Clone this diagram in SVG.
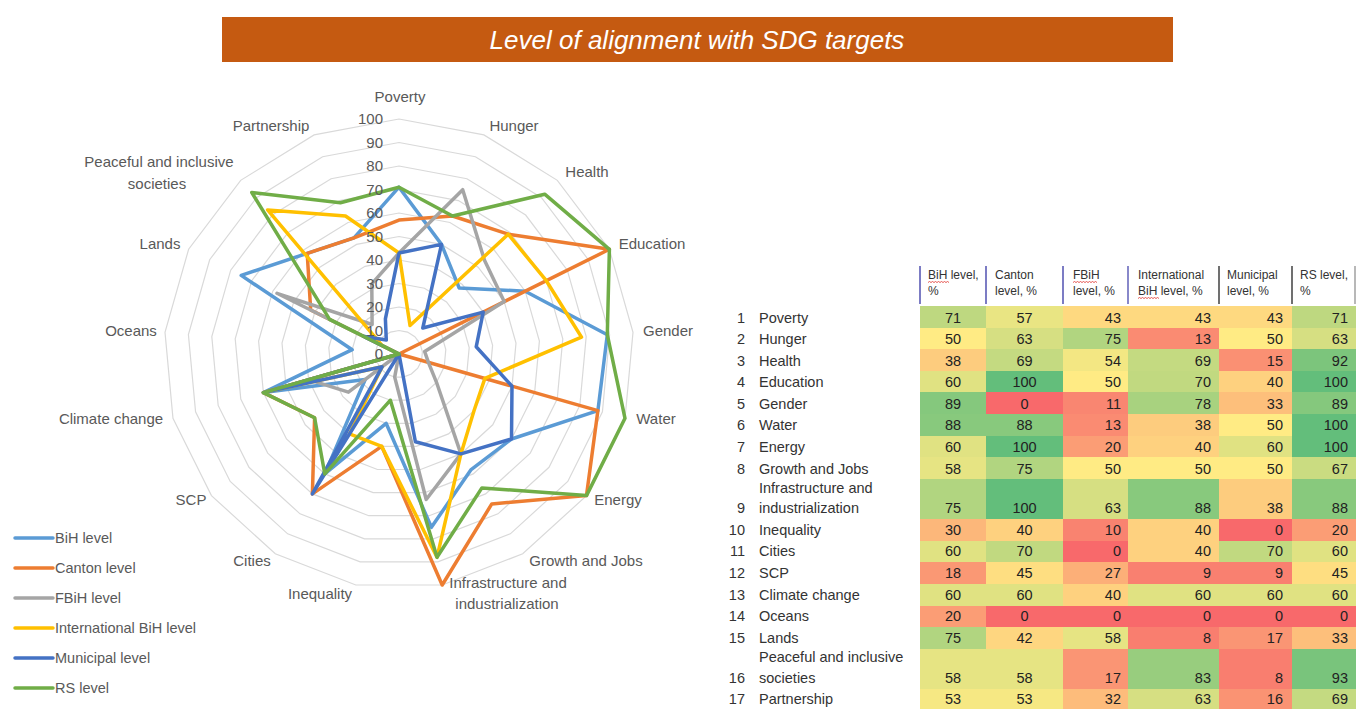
<svg xmlns="http://www.w3.org/2000/svg" width="1356" height="709" viewBox="0 0 1356 709">
<style>
text{font-family:"Liberation Sans",Arial,sans-serif}
.ring{fill:none;stroke:#D9D9D9;stroke-width:1.2;vector-effect:non-scaling-stroke}
.tick{font-size:15px;fill:#595959;text-anchor:end}
.ax{font-size:15px;fill:#595959;text-anchor:middle}
.ser{fill:none;stroke-width:3.5;stroke-linejoin:round}
.leg{font-size:14.5px;fill:#595959}
.legl{stroke-width:3.5;stroke-linecap:round}
.hd{font-size:12px;fill:#333}
.vl{stroke-width:1.5}
.lbl{font-size:14.5px;fill:#333}
.num{font-size:14.5px;fill:#222}
.c{text-anchor:middle}
.r{text-anchor:end}
.sq{fill:none;stroke:#E0302A;stroke-width:0.8}
</style>

<g id="title">
<rect x="222" y="17" width="951" height="45" fill="#C55A11"/>
<text x="697" y="49" font-size="26" font-style="italic" fill="#FFFFFF" text-anchor="middle">Level of alignment with SDG targets</text>
</g>

<g id="radar-grid">
<polygon class="ring" transform="translate(399 354) scale(23.5)" points="0,-1 0.36124,-0.93247 0.6737,-0.73901 0.89516,-0.44573 0.99573,-0.09227 0.96183,0.27366 0.79802,0.60263 0.52643,0.85022 0.18375,0.98297 -0.18375,0.98297 -0.52643,0.85022 -0.79802,0.60263 -0.96183,0.27366 -0.99573,-0.09227 -0.89516,-0.44573 -0.6737,-0.73901 -0.36124,-0.93247"/>
<polygon class="ring" transform="translate(399 354) scale(47)" points="0,-1 0.36124,-0.93247 0.6737,-0.73901 0.89516,-0.44573 0.99573,-0.09227 0.96183,0.27366 0.79802,0.60263 0.52643,0.85022 0.18375,0.98297 -0.18375,0.98297 -0.52643,0.85022 -0.79802,0.60263 -0.96183,0.27366 -0.99573,-0.09227 -0.89516,-0.44573 -0.6737,-0.73901 -0.36124,-0.93247"/>
<polygon class="ring" transform="translate(399 354) scale(70.5)" points="0,-1 0.36124,-0.93247 0.6737,-0.73901 0.89516,-0.44573 0.99573,-0.09227 0.96183,0.27366 0.79802,0.60263 0.52643,0.85022 0.18375,0.98297 -0.18375,0.98297 -0.52643,0.85022 -0.79802,0.60263 -0.96183,0.27366 -0.99573,-0.09227 -0.89516,-0.44573 -0.6737,-0.73901 -0.36124,-0.93247"/>
<polygon class="ring" transform="translate(399 354) scale(94)" points="0,-1 0.36124,-0.93247 0.6737,-0.73901 0.89516,-0.44573 0.99573,-0.09227 0.96183,0.27366 0.79802,0.60263 0.52643,0.85022 0.18375,0.98297 -0.18375,0.98297 -0.52643,0.85022 -0.79802,0.60263 -0.96183,0.27366 -0.99573,-0.09227 -0.89516,-0.44573 -0.6737,-0.73901 -0.36124,-0.93247"/>
<polygon class="ring" transform="translate(399 354) scale(117.5)" points="0,-1 0.36124,-0.93247 0.6737,-0.73901 0.89516,-0.44573 0.99573,-0.09227 0.96183,0.27366 0.79802,0.60263 0.52643,0.85022 0.18375,0.98297 -0.18375,0.98297 -0.52643,0.85022 -0.79802,0.60263 -0.96183,0.27366 -0.99573,-0.09227 -0.89516,-0.44573 -0.6737,-0.73901 -0.36124,-0.93247"/>
<polygon class="ring" transform="translate(399 354) scale(141)" points="0,-1 0.36124,-0.93247 0.6737,-0.73901 0.89516,-0.44573 0.99573,-0.09227 0.96183,0.27366 0.79802,0.60263 0.52643,0.85022 0.18375,0.98297 -0.18375,0.98297 -0.52643,0.85022 -0.79802,0.60263 -0.96183,0.27366 -0.99573,-0.09227 -0.89516,-0.44573 -0.6737,-0.73901 -0.36124,-0.93247"/>
<polygon class="ring" transform="translate(399 354) scale(164.5)" points="0,-1 0.36124,-0.93247 0.6737,-0.73901 0.89516,-0.44573 0.99573,-0.09227 0.96183,0.27366 0.79802,0.60263 0.52643,0.85022 0.18375,0.98297 -0.18375,0.98297 -0.52643,0.85022 -0.79802,0.60263 -0.96183,0.27366 -0.99573,-0.09227 -0.89516,-0.44573 -0.6737,-0.73901 -0.36124,-0.93247"/>
<polygon class="ring" transform="translate(399 354) scale(188)" points="0,-1 0.36124,-0.93247 0.6737,-0.73901 0.89516,-0.44573 0.99573,-0.09227 0.96183,0.27366 0.79802,0.60263 0.52643,0.85022 0.18375,0.98297 -0.18375,0.98297 -0.52643,0.85022 -0.79802,0.60263 -0.96183,0.27366 -0.99573,-0.09227 -0.89516,-0.44573 -0.6737,-0.73901 -0.36124,-0.93247"/>
<polygon class="ring" transform="translate(399 354) scale(211.5)" points="0,-1 0.36124,-0.93247 0.6737,-0.73901 0.89516,-0.44573 0.99573,-0.09227 0.96183,0.27366 0.79802,0.60263 0.52643,0.85022 0.18375,0.98297 -0.18375,0.98297 -0.52643,0.85022 -0.79802,0.60263 -0.96183,0.27366 -0.99573,-0.09227 -0.89516,-0.44573 -0.6737,-0.73901 -0.36124,-0.93247"/>
<polygon class="ring" transform="translate(399 354) scale(235)" points="0,-1 0.36124,-0.93247 0.6737,-0.73901 0.89516,-0.44573 0.99573,-0.09227 0.96183,0.27366 0.79802,0.60263 0.52643,0.85022 0.18375,0.98297 -0.18375,0.98297 -0.52643,0.85022 -0.79802,0.60263 -0.96183,0.27366 -0.99573,-0.09227 -0.89516,-0.44573 -0.6737,-0.73901 -0.36124,-0.93247"/>
</g>

<g id="radar-series">
<polygon id="s-bih" class="ser" stroke="#5B9BD5" points="399,187.2 441.5,244.4 459.2,288 525.2,291.2 607.3,334.7 597.9,410.6 511.5,439 470.8,469.9 431.4,527.3 386.1,423.3 324.8,473.9 365.2,379.5 263.4,392.6 352.2,349.7 241.2,275.4 307.2,253.3 354,237.9"/>
<polygon id="s-canton" class="ser" stroke="#ED7D31" points="399,220.1 452.5,216 508.2,234.2 609.4,249.3 399,354 597.9,410.6 586.5,495.6 491.8,503.9 442.2,585 381.7,446.4 312.4,493.9 314.6,417.7 263.4,392.6 399,354 310.7,310 307.2,253.3 354,237.9"/>
<polygon id="s-fbih" class="ser" stroke="#A5A5A5" points="399,253 462.7,189.7 484.5,260.2 504.2,301.6 424.7,351.6 428.4,362.4 436.5,382.3 460.9,453.9 426.2,499.5 394.7,377.1 399,354 348.4,392.2 308.6,379.7 399,354 277,293.3 372.1,324.5 371.8,283.9"/>
<polygon id="s-intl" class="ser" stroke="#FFC000" points="399,253 410,325.5 508.2,234.2 546.3,280.7 581.5,337.1 484.9,378.4 474,410.7 460.9,453.9 437,557.3 381.7,446.4 349.5,433.9 382.1,366.8 263.4,392.6 399,354 382.2,345.6 267.6,209.9 345.5,216"/>
<polygon id="s-mun" class="ser" stroke="#4472C4" points="399,253 441.5,244.4 422.8,328 483.2,312.1 476.2,346.8 512,386.2 511.5,439 460.9,453.9 415.4,441.8 399,354 312.4,493.9 382.1,366.8 263.4,392.6 399,354 363.2,336.2 386.3,340.1 385.4,318.9"/>
<polygon id="s-rs" class="ser" stroke="#70AD47" points="399,187.2 452.5,216 544.7,194.2 609.4,249.3 607.3,334.7 625,418.3 586.5,495.6 481.9,487.9 437,557.3 390.4,400.2 324.8,473.9 314.6,417.7 263.4,392.6 399,354 329.6,319.4 251.8,192.5 340.4,202.8"/>
</g>

<g id="radar-ticks">
<text class="tick" x="383" y="359">0</text>
<text class="tick" x="383" y="335.5">10</text>
<text class="tick" x="383" y="312">20</text>
<text class="tick" x="383" y="288.5">30</text>
<text class="tick" x="383" y="265">40</text>
<text class="tick" x="383" y="241.5">50</text>
<text class="tick" x="383" y="218">60</text>
<text class="tick" x="383" y="194.5">70</text>
<text class="tick" x="383" y="171">80</text>
<text class="tick" x="383" y="147.5">90</text>
<text class="tick" x="383" y="124">100</text>
</g>

<g id="radar-axis-labels">
<text class="ax" x="400" y="102">Poverty</text>
<text class="ax" x="514" y="131">Hunger</text>
<text class="ax" x="587" y="177">Health</text>
<text class="ax" x="652" y="249">Education</text>
<text class="ax" x="668" y="336">Gender</text>
<text class="ax" x="656" y="424">Water</text>
<text class="ax" x="618" y="505">Energy</text>
<text class="ax" x="586" y="566">Growth and Jobs</text>
<text class="ax" x="508" y="588">Infrastructure and</text>
<text class="ax" x="507" y="609">industrialization</text>
<text class="ax" x="320" y="599">Inequality</text>
<text class="ax" x="252" y="566">Cities</text>
<text class="ax" x="191" y="505">SCP</text>
<text class="ax" x="111" y="424">Climate change</text>
<text class="ax" x="131" y="336">Oceans</text>
<text class="ax" x="160" y="249">Lands</text>
<text class="ax" x="159" y="167">Peaceful and inclusive</text>
<text class="ax" x="157" y="189">societies</text>
<text class="ax" x="271" y="131">Partnership</text>
</g>

<g id="legend">
<line class="legl" x1="15" y1="538" x2="53" y2="538" stroke="#5B9BD5"/><text class="leg" x="55" y="543">BiH level</text>
<line class="legl" x1="15" y1="568" x2="53" y2="568" stroke="#ED7D31"/><text class="leg" x="55" y="573">Canton level</text>
<line class="legl" x1="15" y1="598" x2="53" y2="598" stroke="#A5A5A5"/><text class="leg" x="55" y="603">FBiH level</text>
<line class="legl" x1="15" y1="628" x2="53" y2="628" stroke="#FFC000"/><text class="leg" x="55" y="633">International BiH level</text>
<line class="legl" x1="15" y1="658" x2="53" y2="658" stroke="#4472C4"/><text class="leg" x="55" y="663">Municipal level</text>
<line class="legl" x1="15" y1="688" x2="53" y2="688" stroke="#70AD47"/><text class="leg" x="55" y="693">RS level</text>
</g>

<g id="table-header">
<line class="vl" x1="920" y1="266" x2="920" y2="304" stroke="#5050B0"/>
<line class="vl" x1="986" y1="266" x2="986" y2="304" stroke="#5050B0"/>
<line class="vl" x1="1063" y1="266" x2="1063" y2="304" stroke="#5050B0"/>
<line class="vl" x1="1128" y1="266" x2="1128" y2="304" stroke="#6060B8"/>
<line class="vl" x1="1219" y1="266" x2="1219" y2="304" stroke="#404040"/>
<line class="vl" x1="1292" y1="266" x2="1292" y2="304" stroke="#404040"/>
<line class="vl" x1="1355" y1="266" x2="1355" y2="304" stroke="#A0A0A0"/>
<text class="hd" x="928" y="279">BiH level,</text><text class="hd" x="928" y="295">%</text>
<text class="hd" x="995" y="279">Canton</text><text class="hd" x="995" y="295">level, %</text>
<text class="hd" x="1073" y="279">FBiH</text><text class="hd" x="1073" y="295">level, %</text>
<text class="hd" x="1138" y="279">International</text><text class="hd" x="1138" y="295">BiH level, %</text>
<text class="hd" x="1227" y="279">Municipal</text><text class="hd" x="1227" y="295">level, %</text>
<text class="hd" x="1300" y="279">RS level,</text><text class="hd" x="1300" y="295">%</text>
<path class="sq" d="M928 282.5 l1.5 -1 1.5 1 1.5 -1 1.5 1 1.5 -1 1.5 1 1.5 -1 1.5 1 1.5 -1 1.5 1 1.5 -1 1.5 1 1.5 -1 1.5 1"/>
<path class="sq" d="M1073 282.5 l1.5 -1 1.5 1 1.5 -1 1.5 1 1.5 -1 1.5 1 1.5 -1 1.5 1 1.5 -1 1.5 1 1.5 -1 1.5 1 1.5 -1 1.5 1 1.5 -1 1.5 1"/>
<path class="sq" d="M1138 298.5 l1.5 -1 1.5 1 1.5 -1 1.5 1 1.5 -1 1.5 1 1.5 -1 1.5 1 1.5 -1 1.5 1 1.5 -1 1.5 1 1.5 -1 1.5 1"/>
</g>

<g id="row-1">
<rect x="920" y="306" width="66" height="22" fill="#BED880"/><rect x="986" y="306" width="77" height="22" fill="#E9E583"/><rect x="1063" y="306" width="65" height="22" fill="#FED980"/><rect x="1128" y="306" width="91" height="22" fill="#FED980"/><rect x="1219" y="306" width="73" height="22" fill="#FED980"/><rect x="1292" y="306" width="64" height="22" fill="#BED880"/>
<text class="lbl r" x="745" y="323">1</text><text class="lbl" x="759" y="323">Poverty</text>
<text class="num c" x="953" y="323">71</text><text class="num c" x="1024.5" y="323">57</text><text class="num r" x="1121" y="323">43</text><text class="num r" x="1211" y="323">43</text><text class="num r" x="1283" y="323">43</text><text class="num r" x="1348" y="323">71</text>
</g>
<g id="row-2">
<rect x="920" y="328" width="66" height="21" fill="#FFEB84"/><rect x="986" y="328" width="77" height="21" fill="#D6DF82"/><rect x="1063" y="328" width="65" height="21" fill="#B1D580"/><rect x="1128" y="328" width="91" height="21" fill="#FA8B72"/><rect x="1219" y="328" width="73" height="21" fill="#FFEB84"/><rect x="1292" y="328" width="64" height="21" fill="#D6DF82"/>
<text class="lbl r" x="745" y="344">2</text><text class="lbl" x="759" y="344">Hunger</text>
<text class="num c" x="953" y="344">50</text><text class="num c" x="1024.5" y="344">63</text><text class="num r" x="1121" y="344">75</text><text class="num r" x="1211" y="344">13</text><text class="num r" x="1283" y="344">50</text><text class="num r" x="1348" y="344">63</text>
</g>
<g id="row-3">
<rect x="920" y="349" width="66" height="22" fill="#FDCC7E"/><rect x="986" y="349" width="77" height="22" fill="#C4DA81"/><rect x="1063" y="349" width="65" height="22" fill="#F3E783"/><rect x="1128" y="349" width="91" height="22" fill="#C4DA81"/><rect x="1219" y="349" width="73" height="22" fill="#FA9073"/><rect x="1292" y="349" width="64" height="22" fill="#7CC57C"/>
<text class="lbl r" x="745" y="366">3</text><text class="lbl" x="759" y="366">Health</text>
<text class="num c" x="953" y="366">38</text><text class="num c" x="1024.5" y="366">69</text><text class="num r" x="1121" y="366">54</text><text class="num r" x="1211" y="366">69</text><text class="num r" x="1283" y="366">15</text><text class="num r" x="1348" y="366">92</text>
</g>
<g id="row-4">
<rect x="920" y="371" width="66" height="21" fill="#E0E282"/><rect x="986" y="371" width="77" height="21" fill="#63BE7B"/><rect x="1063" y="371" width="65" height="21" fill="#FFEB84"/><rect x="1128" y="371" width="91" height="21" fill="#C1D980"/><rect x="1219" y="371" width="73" height="21" fill="#FED17F"/><rect x="1292" y="371" width="64" height="21" fill="#63BE7B"/>
<text class="lbl r" x="745" y="387">4</text><text class="lbl" x="759" y="387">Education</text>
<text class="num c" x="953" y="387">60</text><text class="num c" x="1024.5" y="387">100</text><text class="num r" x="1121" y="387">50</text><text class="num r" x="1211" y="387">70</text><text class="num r" x="1283" y="387">40</text><text class="num r" x="1348" y="387">100</text>
</g>
<g id="row-5">
<rect x="920" y="392" width="66" height="22" fill="#85C87D"/><rect x="986" y="392" width="77" height="22" fill="#F8696B"/><rect x="1063" y="392" width="65" height="22" fill="#F98671"/><rect x="1128" y="392" width="91" height="22" fill="#A8D27F"/><rect x="1219" y="392" width="73" height="22" fill="#FDBF7B"/><rect x="1292" y="392" width="64" height="22" fill="#85C87D"/>
<text class="lbl r" x="745" y="409">5</text><text class="lbl" x="759" y="409">Gender</text>
<text class="num c" x="953" y="409">89</text><text class="num c" x="1024.5" y="409">0</text><text class="num r" x="1121" y="409">11</text><text class="num r" x="1211" y="409">78</text><text class="num r" x="1283" y="409">33</text><text class="num r" x="1348" y="409">89</text>
</g>
<g id="row-6">
<rect x="920" y="414" width="66" height="22" fill="#88C97D"/><rect x="986" y="414" width="77" height="22" fill="#88C97D"/><rect x="1063" y="414" width="65" height="22" fill="#FA8B72"/><rect x="1128" y="414" width="91" height="22" fill="#FDCC7E"/><rect x="1219" y="414" width="73" height="22" fill="#FFEB84"/><rect x="1292" y="414" width="64" height="22" fill="#63BE7B"/>
<text class="lbl r" x="745" y="430">6</text><text class="lbl" x="759" y="430">Water</text>
<text class="num c" x="953" y="430">88</text><text class="num c" x="1024.5" y="430">88</text><text class="num r" x="1121" y="430">13</text><text class="num r" x="1211" y="430">38</text><text class="num r" x="1283" y="430">50</text><text class="num r" x="1348" y="430">100</text>
</g>
<g id="row-7">
<rect x="920" y="436" width="66" height="21" fill="#E0E282"/><rect x="986" y="436" width="77" height="21" fill="#63BE7B"/><rect x="1063" y="436" width="65" height="21" fill="#FB9D75"/><rect x="1128" y="436" width="91" height="21" fill="#FED17F"/><rect x="1219" y="436" width="73" height="21" fill="#E0E282"/><rect x="1292" y="436" width="64" height="21" fill="#63BE7B"/>
<text class="lbl r" x="745" y="452">7</text><text class="lbl" x="759" y="452">Energy</text>
<text class="num c" x="953" y="452">60</text><text class="num c" x="1024.5" y="452">100</text><text class="num r" x="1121" y="452">20</text><text class="num r" x="1211" y="452">40</text><text class="num r" x="1283" y="452">60</text><text class="num r" x="1348" y="452">100</text>
</g>
<g id="row-8">
<rect x="920" y="457" width="66" height="22" fill="#E6E483"/><rect x="986" y="457" width="77" height="22" fill="#B1D580"/><rect x="1063" y="457" width="65" height="22" fill="#FFEB84"/><rect x="1128" y="457" width="91" height="22" fill="#FFEB84"/><rect x="1219" y="457" width="73" height="22" fill="#FFEB84"/><rect x="1292" y="457" width="64" height="22" fill="#CADC81"/>
<text class="lbl r" x="745" y="474">8</text><text class="lbl" x="759" y="474">Growth and Jobs</text>
<text class="num c" x="953" y="474">58</text><text class="num c" x="1024.5" y="474">75</text><text class="num r" x="1121" y="474">50</text><text class="num r" x="1211" y="474">50</text><text class="num r" x="1283" y="474">50</text><text class="num r" x="1348" y="474">67</text>
</g>
<g id="row-9">
<rect x="920" y="479" width="66" height="40" fill="#B1D580"/><rect x="986" y="479" width="77" height="40" fill="#63BE7B"/><rect x="1063" y="479" width="65" height="40" fill="#D6DF82"/><rect x="1128" y="479" width="91" height="40" fill="#88C97D"/><rect x="1219" y="479" width="73" height="40" fill="#FDCC7E"/><rect x="1292" y="479" width="64" height="40" fill="#88C97D"/>
<text class="lbl" x="759" y="493">Infrastructure and</text>
<text class="lbl r" x="745" y="513">9</text><text class="lbl" x="759" y="513">industrialization</text>
<text class="num c" x="953" y="513">75</text><text class="num c" x="1024.5" y="513">100</text><text class="num r" x="1121" y="513">63</text><text class="num r" x="1211" y="513">88</text><text class="num r" x="1283" y="513">38</text><text class="num r" x="1348" y="513">88</text>
</g>
<g id="row-10">
<rect x="920" y="519" width="66" height="22" fill="#FCB77A"/><rect x="986" y="519" width="77" height="22" fill="#FED17F"/><rect x="1063" y="519" width="65" height="22" fill="#F98370"/><rect x="1128" y="519" width="91" height="22" fill="#FED17F"/><rect x="1219" y="519" width="73" height="22" fill="#F8696B"/><rect x="1292" y="519" width="64" height="22" fill="#FB9D75"/>
<text class="lbl r" x="745" y="535">10</text><text class="lbl" x="759" y="535">Inequality</text>
<text class="num c" x="953" y="535">30</text><text class="num c" x="1024.5" y="535">40</text><text class="num r" x="1121" y="535">10</text><text class="num r" x="1211" y="535">40</text><text class="num r" x="1283" y="535">0</text><text class="num r" x="1348" y="535">20</text>
</g>
<g id="row-11">
<rect x="920" y="541" width="66" height="21" fill="#E0E282"/><rect x="986" y="541" width="77" height="21" fill="#C1D980"/><rect x="1063" y="541" width="65" height="21" fill="#F8696B"/><rect x="1128" y="541" width="91" height="21" fill="#FED17F"/><rect x="1219" y="541" width="73" height="21" fill="#C1D980"/><rect x="1292" y="541" width="64" height="21" fill="#E0E282"/>
<text class="lbl r" x="745" y="556">11</text><text class="lbl" x="759" y="556">Cities</text>
<text class="num c" x="953" y="556">60</text><text class="num c" x="1024.5" y="556">70</text><text class="num r" x="1121" y="556">0</text><text class="num r" x="1211" y="556">40</text><text class="num r" x="1283" y="556">70</text><text class="num r" x="1348" y="556">60</text>
</g>
<g id="row-12">
<rect x="920" y="562" width="66" height="22" fill="#FA9874"/><rect x="986" y="562" width="77" height="22" fill="#FEDE81"/><rect x="1063" y="562" width="65" height="22" fill="#FCAF78"/><rect x="1128" y="562" width="91" height="22" fill="#F98070"/><rect x="1219" y="562" width="73" height="22" fill="#F98070"/><rect x="1292" y="562" width="64" height="22" fill="#FEDE81"/>
<text class="lbl r" x="745" y="578">12</text><text class="lbl" x="759" y="578">SCP</text>
<text class="num c" x="953" y="578">18</text><text class="num c" x="1024.5" y="578">45</text><text class="num r" x="1121" y="578">27</text><text class="num r" x="1211" y="578">9</text><text class="num r" x="1283" y="578">9</text><text class="num r" x="1348" y="578">45</text>
</g>
<g id="row-13">
<rect x="920" y="584" width="66" height="22" fill="#E0E282"/><rect x="986" y="584" width="77" height="22" fill="#E0E282"/><rect x="1063" y="584" width="65" height="22" fill="#FED17F"/><rect x="1128" y="584" width="91" height="22" fill="#E0E282"/><rect x="1219" y="584" width="73" height="22" fill="#E0E282"/><rect x="1292" y="584" width="64" height="22" fill="#E0E282"/>
<text class="lbl r" x="745" y="600">13</text><text class="lbl" x="759" y="600">Climate change</text>
<text class="num c" x="953" y="600">60</text><text class="num c" x="1024.5" y="600">60</text><text class="num r" x="1121" y="600">40</text><text class="num r" x="1211" y="600">60</text><text class="num r" x="1283" y="600">60</text><text class="num r" x="1348" y="600">60</text>
</g>
<g id="row-14">
<rect x="920" y="606" width="66" height="21" fill="#FB9D75"/><rect x="986" y="606" width="370" height="21" fill="#F8696B"/>
<text class="lbl r" x="745" y="621">14</text><text class="lbl" x="759" y="621">Oceans</text>
<text class="num c" x="953" y="621">20</text><text class="num c" x="1024.5" y="621">0</text><text class="num r" x="1121" y="621">0</text><text class="num r" x="1211" y="621">0</text><text class="num r" x="1283" y="621">0</text><text class="num r" x="1348" y="621">0</text>
</g>
<g id="row-15">
<rect x="920" y="627" width="66" height="22" fill="#B1D580"/><rect x="986" y="627" width="77" height="22" fill="#FED680"/><rect x="1063" y="627" width="65" height="22" fill="#E6E483"/><rect x="1128" y="627" width="91" height="22" fill="#F97E6F"/><rect x="1219" y="627" width="73" height="22" fill="#FA9574"/><rect x="1292" y="627" width="64" height="22" fill="#FDBF7B"/>
<text class="lbl r" x="745" y="643">15</text><text class="lbl" x="759" y="643">Lands</text>
<text class="num c" x="953" y="643">75</text><text class="num c" x="1024.5" y="643">42</text><text class="num r" x="1121" y="643">58</text><text class="num r" x="1211" y="643">8</text><text class="num r" x="1283" y="643">17</text><text class="num r" x="1348" y="643">33</text>
</g>
<g id="row-16">
<rect x="920" y="649" width="66" height="40" fill="#E6E483"/><rect x="986" y="649" width="77" height="40" fill="#E6E483"/><rect x="1063" y="649" width="65" height="40" fill="#FA9574"/><rect x="1128" y="649" width="91" height="40" fill="#98CD7E"/><rect x="1219" y="649" width="73" height="40" fill="#F97E6F"/><rect x="1292" y="649" width="64" height="40" fill="#79C47C"/>
<text class="lbl" x="759" y="662">Peaceful and inclusive</text>
<text class="lbl r" x="745" y="683">16</text><text class="lbl" x="759" y="683">societies</text>
<text class="num c" x="953" y="683">58</text><text class="num c" x="1024.5" y="683">58</text><text class="num r" x="1121" y="683">17</text><text class="num r" x="1211" y="683">83</text><text class="num r" x="1283" y="683">8</text><text class="num r" x="1348" y="683">93</text>
</g>
<g id="row-17">
<rect x="920" y="689" width="66" height="20" fill="#F6E883"/><rect x="986" y="689" width="77" height="20" fill="#F6E883"/><rect x="1063" y="689" width="65" height="20" fill="#FDBC7B"/><rect x="1128" y="689" width="91" height="20" fill="#D6DF82"/><rect x="1219" y="689" width="73" height="20" fill="#FA9373"/><rect x="1292" y="689" width="64" height="20" fill="#C4DA81"/>
<text class="lbl r" x="745" y="704">17</text><text class="lbl" x="759" y="704">Partnership</text>
<text class="num c" x="953" y="704">53</text><text class="num c" x="1024.5" y="704">53</text><text class="num r" x="1121" y="704">32</text><text class="num r" x="1211" y="704">63</text><text class="num r" x="1283" y="704">16</text><text class="num r" x="1348" y="704">69</text>
</g>
</svg>
